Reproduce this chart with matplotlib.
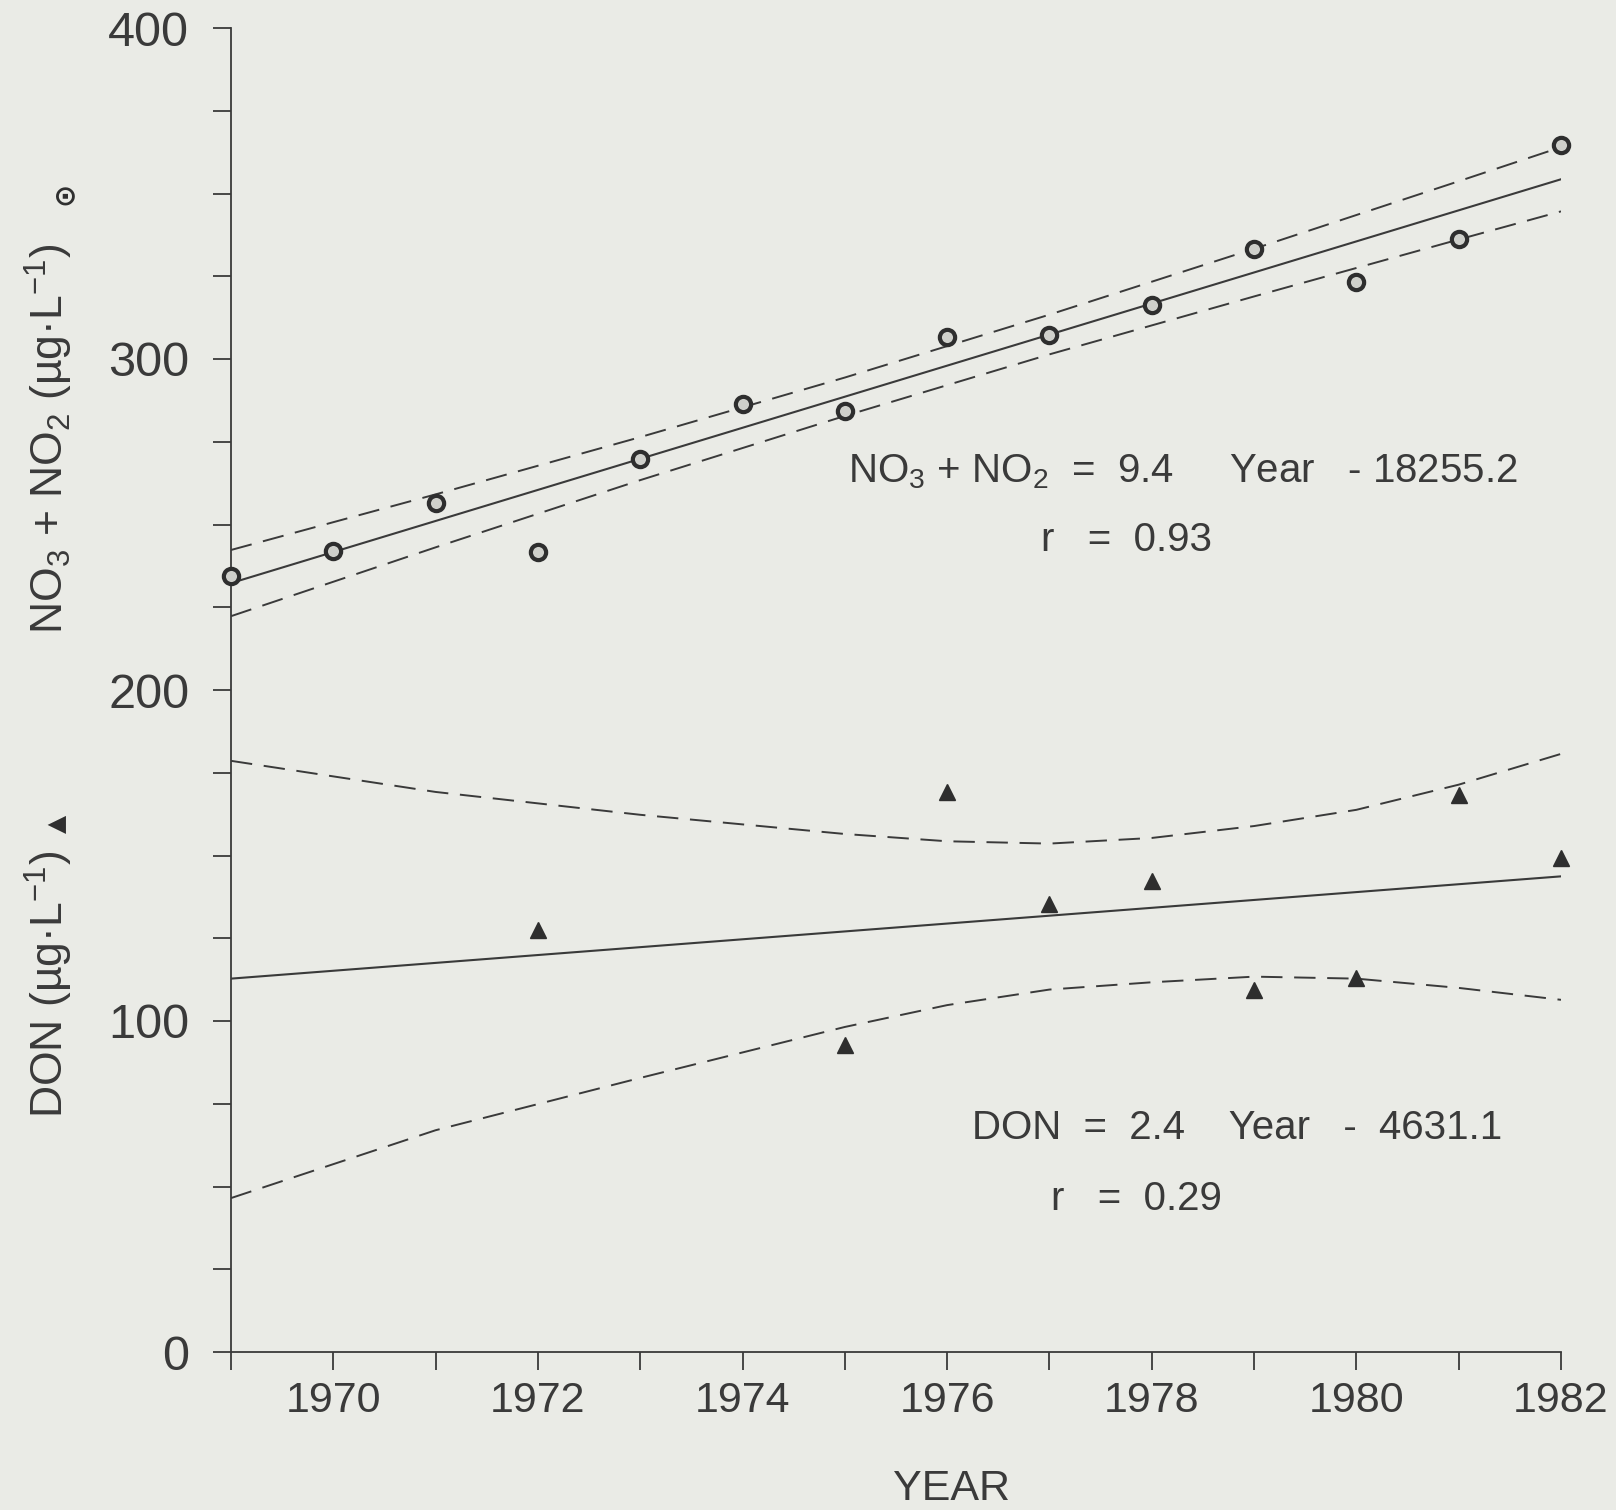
######################################
# NO3+NO2 and DON trend vs year, with regression lines and 95% bands
######################################

import matplotlib
matplotlib.use("Agg")
import matplotlib.pyplot as plt

# NO3 + NO2 yearly values (ug/L)
no3_years = [1969, 1970, 1971, 1972, 1973, 1974, 1975, 1976, 1977, 1978, 1979, 1980, 1981, 1982]
no3_values = [234.5, 241.9, 256.5, 241.8, 269.9, 286.3, 284.4, 306.5, 307.1, 316.4, 333.2, 323.2, 336.2, 364.6]

# regression line and confidence band as drawn
no3_fit_years = [1969, 1982]
no3_fit = [232.3, 354.3]
no3_band_years = [1969, 1971, 1973, 1975, 1977, 1979, 1981, 1982]
no3_upper = [242.3, 259.1, 276.4, 294.4, 313.4, 333.3, 353.7, 364.0]
no3_lower = [222.3, 243.1, 263.4, 282.8, 301.4, 318.9, 336.1, 344.6]

# DON yearly values (ug/L)
don_years = [1972, 1975, 1976, 1977, 1978, 1979, 1980, 1981, 1982]
don_values = [127.5, 92.8, 169.1, 135.2, 142.3, 109.5, 112.9, 168.3, 149.3]

don_fit_years = [1969, 1982]
don_fit = [112.8, 143.7]
don_band_years = [1969, 1971, 1973, 1975, 1976, 1977, 1978, 1979, 1980, 1981, 1982]
don_upper = [178.6, 169.2, 162.3, 156.5, 154.3, 153.6, 155.3, 158.9, 163.8, 171.4, 180.7]
don_lower = [46.5, 67.0, 82.8, 98.2, 104.8, 109.5, 111.7, 113.4, 112.8, 110.0, 106.4]

year_labels = [1970, 1972, 1974, 1976, 1978, 1980, 1982]
y_labels = [0, 100, 200, 300, 400]

paper = "#eaebe6"
ink = "#3a3a3a"

plt.rcParams['font.family'] = ['Liberation Sans', 'DejaVu Sans']
plt.rcParams['mathtext.fontset'] = 'custom'
plt.rcParams['mathtext.rm'] = 'Liberation Sans'
plt.rcParams['mathtext.default'] = 'regular'

W, H = 1616, 1510
fig = plt.figure(figsize=(W / 100, H / 100), dpi=100, facecolor=paper)
ax = fig.add_axes([231 / W, 1 - 1352 / H, (1561 - 231) / W, (1352 - 28) / H])
ax.set_facecolor(paper)

dash = (0, (11, 6))

ax.plot(no3_fit_years, no3_fit, color=ink, lw=1.5)
ax.plot(no3_band_years, no3_upper, color=ink, lw=1.4, ls=dash)
ax.plot(no3_band_years, no3_lower, color=ink, lw=1.4, ls=dash)

ax.plot(don_fit_years, don_fit, color=ink, lw=1.5)
ax.plot(don_band_years, don_upper, color=ink, lw=1.4, ls=dash)
ax.plot(don_band_years, don_lower, color=ink, lw=1.4, ls=dash)

ax.plot(no3_years, no3_values, 'o', ms=11, mfc="#cfd0cb", mec="#2e2e2e", mew=3, clip_on=False, zorder=5)
ax.plot(don_years, don_values, '^', ms=11, color="#2e2e2e", clip_on=False, zorder=5)

ax.set_xlim(1969, 1982)
ax.set_ylim(0, 400)
ax.set_xticks(year_labels)
ax.set_xticks(range(1969, 1983), minor=True)
ax.set_yticks(y_labels)
ax.set_yticks(range(0, 401, 25), minor=True)
ax.tick_params(which='both', direction='out', length=13, width=1.3, color=ink, labelcolor=ink)
ax.tick_params(axis='x', labelsize=31, pad=8)
ax.tick_params(axis='y', labelsize=35, pad=17)

for side in ['top', 'right']:
    ax.spines[side].set_visible(False)
for side in ['left', 'bottom']:
    ax.spines[side].set_linewidth(1.3)
    ax.spines[side].set_color(ink)

# axis titles
fig.text(951 / W, 1 - 1489 / H, "YEAR", ha='center', va='center', fontsize=31, color=ink)
fig.text(49 / W, 1 - 1118 / H, r"DON (µg·L$^{-1}$)", rotation=90, ha='center', va='bottom',
         fontsize=32, color=ink)
fig.text(57 / W, 1 - 824 / H, "▲", rotation=90, ha='center', va='center',
         fontsize=17, color="#2e2e2e", family='DejaVu Sans')
fig.text(49 / W, 1 - 634 / H, r"NO$_3$ + NO$_2$ (µg·L$^{-1}$)", rotation=90, ha='center', va='bottom',
         fontsize=32, color=ink)
fig.text(64 / W, 1 - 193 / H, "⊙", rotation=90, ha='center', va='center',
         fontsize=20, color="#2e2e2e", family='DejaVu Sans', fontweight='bold')

# regression equations
fig.text(848 / W, 1 - 482 / H, r"NO$_3$ + NO$_2$  =  9.4     Year   - 18255.2", ha='left', va='baseline',
         fontsize=29, color=ink)
fig.text(1041 / W, 1 - 551 / H, "r   =  0.93", ha='left', va='baseline', fontsize=29, color=ink)
fig.text(972 / W, 1 - 1139 / H, "DON  =  2.4    Year   -  4631.1", ha='left', va='baseline',
         fontsize=29, color=ink)
fig.text(1051 / W, 1 - 1210 / H, "r   =  0.29", ha='left', va='baseline', fontsize=29, color=ink)

fig.savefig("out.png", dpi=100, facecolor=paper)
